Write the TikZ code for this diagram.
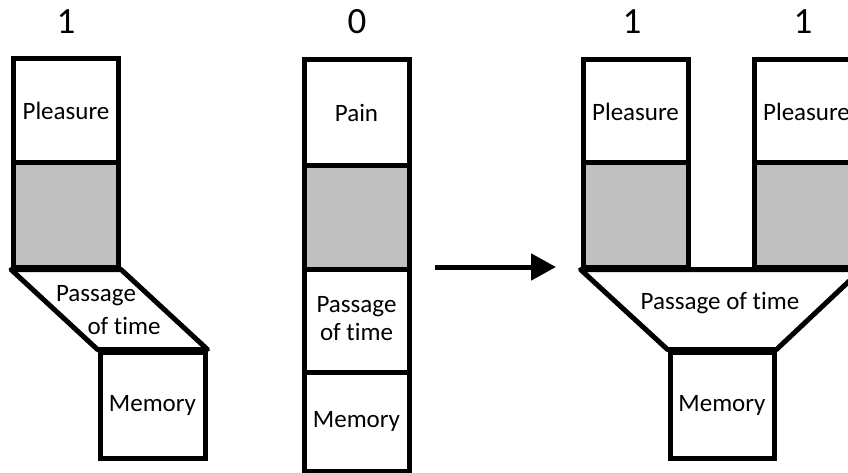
\documentclass[tikz,border=0pt]{standalone}
\usepackage{fontspec}
\setmainfont[Ligatures={NoCommon}]{Carlito}
\usetikzlibrary{arrows.meta}
\definecolor{boxgrey}{RGB}{192,192,192}
\newcommand{\txtfont}{\fontsize{25}{29}\selectfont}
\newcommand{\numfont}{\fontsize{37}{40}\selectfont}
\begin{document}
\begin{tikzpicture}[x=1pt,y=-1pt,
  box/.style={draw, line width=5pt, line join=miter, inner sep=0pt, minimum width=105pt, minimum height=104pt, font=\txtfont},
  greybox/.style={box, fill=boxgrey},
  funnel/.style={draw, line width=5pt, line join=round},
  lbl/.style={font=\txtfont, inner sep=0pt},
  num/.style={font=\numfont, inner sep=0pt},
  arr/.style={line width=5pt, -{Triangle[length=25pt,width=26pt]}}]
\useasboundingbox (0,0) rectangle (848,473);
\clip (0,0) rectangle (848,473);
% left column
\node[num] (n1) at (66,22) {1};
\node[box] (lp) at (66,111) {Pleasure};
\node[greybox] (lg) at (66,215) {};
\node[box, minimum height=106pt] (lm) at (152.5,405) {Memory};
\draw[funnel] (lg.south west) -- (lg.south east) -- (lm.north east) -- (lm.north west) -- cycle;
\node[lbl] (lt1) at (96,296) {Passage};
\node[lbl] (lt2) at (124,326) {of time};
% middle column
\node[num] (n0) at (357,22) {0};
\node[box, minimum height=106pt] (mp) at (356.5,113) {Pain};
\node[greybox, minimum height=103pt] (mg) at (356.5,217.5) {};
\node[box, minimum height=103pt] (mt) at (356.5,320.5) {\begin{tabular}{@{}c@{}}Passage\\[-1pt]of time\end{tabular}};
\node[box, minimum height=99pt] (mm) at (356.5,421.5) {Memory};
% arrow
\coordinate (a1) at (435,267);
\coordinate (a2) at (556,267);
\draw[arr] (a1) -- (a2);
% right group
\node[num] (n2) at (632,22) {1};
\node[num] (n3) at (803,22) {1};
\node[box, minimum height=103pt] (rp1) at (635.5,111.5) {Pleasure};
\node[greybox] (rg1) at (635.5,215) {};
\node[box, minimum height=103pt] (rp2) at (806.5,111.5) {Pleasure};
\node[greybox] (rg2) at (806.5,215) {};
\node[box, minimum width=104pt, minimum height=106pt] (rm) at (722,405) {Memory};
\draw[funnel] (rg1.south west) -- (rg2.south east) -- (rm.north east) -- (rm.north west) -- cycle;
\node[lbl] (rt) at (720,303) {Passage of time};
\end{tikzpicture}
\end{document}
